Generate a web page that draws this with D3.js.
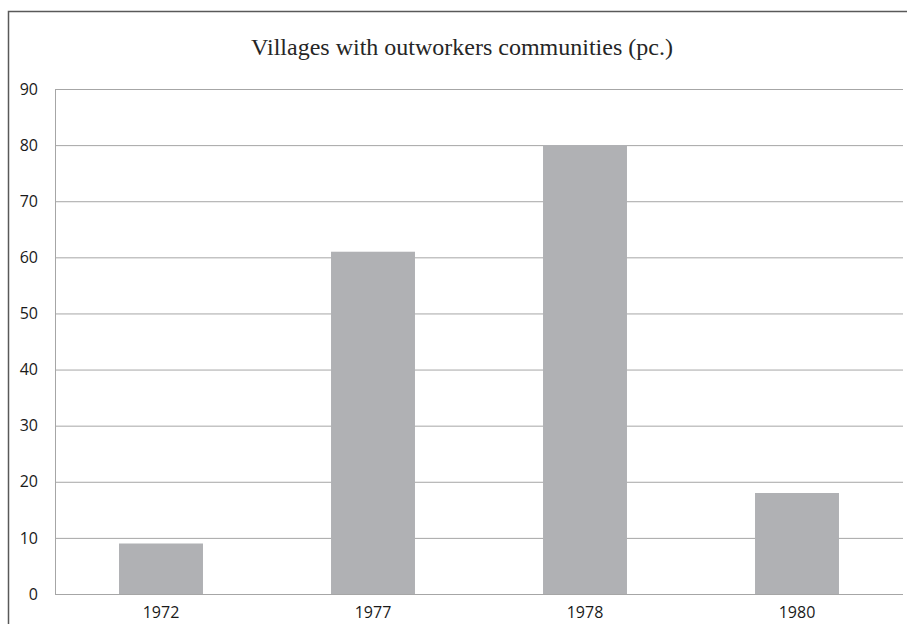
<!DOCTYPE html>
<html>
<head lang="en">
    <meta charset="UTF-8">
    <title>Villages with outworkers communities</title>
    <script src="https://cdnjs.cloudflare.com/ajax/libs/d3/7.8.5/d3.min.js" charset="utf-8"></script>
</head>
<body style="margin: 0; background: white">
<div id="chart"></div>
<script>

// data
var years = ['1972', '1977', '1978', '1980'];
var values = [9, 61, 80, 18];
var yTicks = [0, 10, 20, 30, 40, 50, 60, 70, 80, 90];

var width = 907, height = 624;
var plot = {left: 55, right: 903, top: 89, bottom: 594};

var svg = d3.select('#chart').append('svg')
    .attr('width', width)
    .attr('height', height);

// outer frame (only left and top visible in the picture)
svg.append('path')
    .attr('d', 'M8.5,' + height + 'V11.5H' + width)
    .attr('fill', 'none')
    .attr('stroke', '#595959')
    .attr('stroke-width', 1.5);

svg.append('text')
    .attr('x', 462)
    .attr('y', 55)
    .attr('text-anchor', 'middle')
    .style('font-family', '"Liberation Serif", serif')
    .style('font-size', '24px')
    .style('fill', '#262626')
    .text('Villages with outworkers communities (pc.)');

var x = d3.scaleBand()
    .domain(years)
    .range([plot.left, plot.right])
    .paddingInner(0.604)
    .paddingOuter(0.302);

var y = d3.scaleLinear()
    .domain([0, 90])
    .range([plot.bottom, plot.top]);

// gridlines + y labels
var yAxis = d3.axisLeft(y)
    .tickValues(yTicks)
    .tickSize(-(plot.right - plot.left))
    .tickPadding(17);

var gy = svg.append('g')
    .attr('transform', 'translate(' + plot.left + ',0)')
    .call(yAxis);
gy.select('.domain').remove();
gy.selectAll('line').attr('stroke', '#a6a6a6').attr('stroke-width', 1);
gy.selectAll('text')
    .style('font-family', '"Open Sans", sans-serif')
    .style('font-size', '16px')
    .style('fill', '#1a1a1a');

// left edge of plot area
svg.append('line')
    .attr('x1', plot.left + 0.5).attr('x2', plot.left + 0.5)
    .attr('y1', plot.top).attr('y2', plot.bottom)
    .attr('stroke', '#a6a6a6');

svg.selectAll('rect.bar')
    .data(values)
    .enter().append('rect')
    .attr('class', 'bar')
    .attr('x', function(d, i) { return x(years[i]); })
    .attr('width', x.bandwidth())
    .attr('y', function(d) { return y(d); })
    .attr('height', function(d) { return y(0) - y(d); })
    .attr('fill', '#b0b1b4');

// baseline over bars
svg.append('line')
    .attr('x1', plot.left).attr('x2', plot.right)
    .attr('y1', y(0) + 0.5).attr('y2', y(0) + 0.5)
    .attr('stroke', '#a6a6a6');

var xAxis = d3.axisBottom(x).tickSize(0).tickPadding(13);
var gx = svg.append('g')
    .attr('transform', 'translate(0,' + plot.bottom + ')')
    .call(xAxis);
gx.select('.domain').remove();
gx.selectAll('text')
    .style('font-family', '"Open Sans", sans-serif')
    .style('font-size', '16px')
    .style('fill', '#1a1a1a');

</script>
</body>
</html>
